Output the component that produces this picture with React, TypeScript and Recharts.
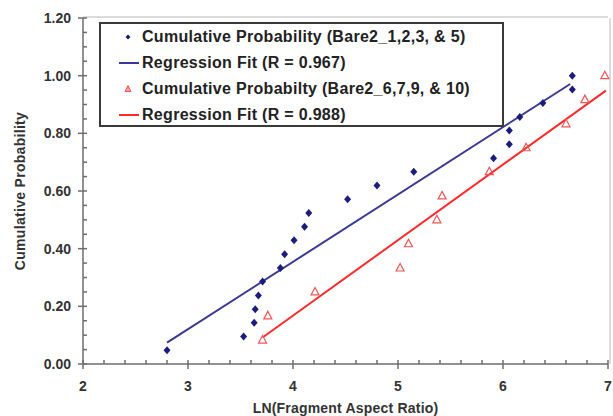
import React from "react";
import { CartesianGrid, Legend, Scatter, ScatterChart, XAxis, YAxis } from "recharts";

// Bare2_1,2,3 & 5
const blueX = [2.8, 3.53, 3.63, 3.64, 3.67, 3.71, 3.88, 3.92, 4.01, 4.11, 4.15, 4.52, 4.8, 5.15, 5.91, 6.06, 6.06, 6.16, 6.38, 6.66, 6.66];
const blueY = [0.048, 0.095, 0.143, 0.19, 0.238, 0.286, 0.333, 0.381, 0.429, 0.476, 0.524, 0.571, 0.619, 0.667, 0.714, 0.762, 0.81, 0.857, 0.905, 0.952, 1.0];
const blueFitX = [2.8, 6.64];
const blueFitY = [0.074, 0.971];

// Bare2_6,7,9 & 10
const redX = [3.71, 3.76, 4.21, 5.02, 5.1, 5.37, 5.42, 5.87, 6.22, 6.6, 6.78, 6.97];
const redY = [0.083, 0.167, 0.25, 0.333, 0.417, 0.5, 0.583, 0.667, 0.75, 0.833, 0.917, 1.0];
const redFitX = [3.71, 6.98];
const redFitY = [0.092, 0.948];

const xTicks = Array.from({ length: 26 }, (_, i) => Math.round((2 + i * 0.2) * 10) / 10);
const yTicks = Array.from({ length: 25 }, (_, i) => Math.round(i * 5) / 100);

const blueName = "Cumulative Probability (Bare2_1,2,3, & 5)";
const blueFitName = "Regression Fit (R = 0.967)";
const redName = "Cumulative Probabilty (Bare2_6,7,9, & 10)";
const redFitName = "Regression Fit (R = 0.988)";
const legendOrder = [blueName, blueFitName, redName, redFitName];

const BLUE = "#1c1c7c";
const BLUE_LINE = "#3a3a96";
const RED = "#f05555";
const RED_LINE = "#ff2a2a";
const AXIS = "#6e6e6e";
const TEXT = "#333";
const FONT = "'Liberation Sans', Arial, sans-serif";

const toPoints = (xs: number[], ys: number[]) => xs.map((x, i) => ({ x, y: ys[i] }));

const bluePoints = toPoints(blueX, blueY);
const blueFit = toPoints(blueFitX, blueFitY);
const redPoints = toPoints(redX, redY);
const redFit = toPoints(redFitX, redFitY);

const isMajor = (v: number, step: number) => Math.abs(v / step - Math.round(v / step)) < 1e-6;

function Diamond(props: any) {
  const { cx, cy } = props;
  if (cx == null || cy == null) return <g />;
  return <path d={`M${cx},${cy - 4}L${cx + 3.5},${cy}L${cx},${cy + 4}L${cx - 3.5},${cy}Z`} fill={BLUE} />;
}

function Triangle(props: any) {
  const { cx, cy } = props;
  if (cx == null || cy == null) return <g />;
  return (
    <path
      d={`M${cx},${cy - 4.5}L${cx + 4},${cy + 3}L${cx - 4},${cy + 3}Z`}
      fill="none"
      stroke={RED}
      strokeWidth={1.2}
    />
  );
}

const NoShape = () => <g />;

function XTick({ x, y, payload }: any) {
  const major = isMajor(payload.value, 1);
  return (
    <g>
      <line x1={x} x2={x} y1={y - 4} y2={major ? y + 5 : y} stroke={AXIS} strokeWidth={1.5} />
      {major && (
        <text x={x} y={y + 27} textAnchor="middle" fill={TEXT} fontSize={14} fontWeight="bold" fontFamily={FONT}>
          {payload.value}
        </text>
      )}
    </g>
  );
}

function YTick({ x, y, payload }: any) {
  const major = isMajor(payload.value, 0.2);
  return (
    <g>
      <line x1={major ? x - 5 : x} x2={x + 4} y1={y} y2={y} stroke={AXIS} strokeWidth={1.5} />
      {major && (
        <text x={x - 12} y={y + 5} textAnchor="end" fill={TEXT} fontSize={14} fontWeight="bold" fontFamily={FONT}>
          {payload.value.toFixed(2)}
        </text>
      )}
    </g>
  );
}

function YLabel({ viewBox }: any) {
  const cx = (viewBox?.x ?? 0) + 20;
  const cy = (viewBox?.y ?? 18) + (viewBox?.height ?? 346) / 2;
  return (
    <text
      x={cx}
      y={cy}
      transform={`rotate(-90 ${cx} ${cy})`}
      textAnchor="middle"
      dominantBaseline="central"
      fill={TEXT}
      fontSize={14}
      fontWeight="bold"
      fontFamily={FONT}
      letterSpacing={0.3}
    >
      Cumulative Probability
    </text>
  );
}

function XLabel({ viewBox }: any) {
  const cx = (viewBox?.x ?? 83) + (viewBox?.width ?? 525) / 2;
  const cy = (viewBox?.y ?? 364) + 49;
  return (
    <text
      x={cx}
      y={cy}
      textAnchor="middle"
      fill={TEXT}
      fontSize={14}
      fontWeight="bold"
      fontFamily={FONT}
      letterSpacing={0.2}
    >
      LN(Fragment Aspect Ratio)
    </text>
  );
}

function LegendMarker({ name }: { name: string }) {
  if (name === blueName) {
    return <path d="M27,10.5L29.5,13L27,15.5L24.5,13Z" fill={BLUE} />;
  }
  if (name === redName) {
    return <path d="M27,9.5L30,15.5L24,15.5Z" fill="#f8a0a0" stroke={RED} strokeWidth={1} />;
  }
  return <line x1={18} x2={38} y1={13} y2={13} stroke={name === blueFitName ? BLUE_LINE : RED_LINE} strokeWidth={2} />;
}

function LegendBox({ payload }: any) {
  const names = legendOrder.filter((n) => !payload || payload.some((p: any) => p.value === n));
  return (
    <div
      style={{
        width: 405,
        height: 105,
        boxSizing: "border-box",
        border: "2px solid #3a3a3a",
        background: "#fff",
        fontFamily: FONT,
      }}
    >
      {names.map((name) => (
        <div key={name} style={{ display: "flex", alignItems: "center", height: 26 }}>
          <svg width={41} height={26} style={{ flex: "none" }}>
            <LegendMarker name={name} />
          </svg>
          <span style={{ fontSize: 16, fontWeight: "bold", color: "#222", whiteSpace: "pre", letterSpacing: 0.3 }}>
            {name}
          </span>
        </div>
      ))}
    </div>
  );
}

export default function App() {
  return (
    <div style={{ position: "absolute", left: 0, top: 0, width: 613, height: 416, background: "#fff" }}>
      <ScatterChart width={613} height={416} margin={{ top: 18, right: 5, bottom: 0, left: 0 }}>
        <CartesianGrid
          stroke="#b8b8b8"
          strokeWidth={1}
          horizontalCoordinatesGenerator={({ offset }: any) => [offset.top - 1]}
          verticalCoordinatesGenerator={({ offset }: any) => [offset.left + offset.width + 2]}
        />
        <XAxis
          type="number"
          dataKey="x"
          domain={[2, 7]}
          ticks={xTicks}
          interval={0}
          height={52}
          tickSize={0}
          tickMargin={0}
          tickLine={false}
          tick={XTick}
          stroke={AXIS}
          strokeWidth={1.5}
          label={XLabel}
        />
        <YAxis
          type="number"
          dataKey="y"
          domain={[0, 1.2]}
          ticks={yTicks}
          interval={0}
          width={83}
          tickSize={0}
          tickMargin={0}
          tickLine={false}
          tick={YTick}
          stroke={AXIS}
          strokeWidth={1.5}
          label={YLabel}
        />
        <Legend
          content={LegendBox}
          layout="vertical"
          align="center"
          verticalAlign="middle"
          wrapperStyle={{ position: "absolute", left: 99, top: 22, width: 405, height: 105 }}
        />
        <Scatter
          name={blueFitName}
          data={blueFit}
          line={{ stroke: BLUE_LINE, strokeWidth: 2 }}
          shape={NoShape}
          legendType="line"
          fill={BLUE_LINE}
          isAnimationActive={false}
        />
        <Scatter
          name={redFitName}
          data={redFit}
          line={{ stroke: RED_LINE, strokeWidth: 2 }}
          shape={NoShape}
          legendType="line"
          fill={RED_LINE}
          isAnimationActive={false}
        />
        <Scatter
          name={blueName}
          data={bluePoints}
          shape={Diamond}
          legendType="diamond"
          fill={BLUE}
          isAnimationActive={false}
        />
        <Scatter
          name={redName}
          data={redPoints}
          shape={Triangle}
          legendType="triangle"
          fill={RED}
          isAnimationActive={false}
        />
      </ScatterChart>
    </div>
  );
}
